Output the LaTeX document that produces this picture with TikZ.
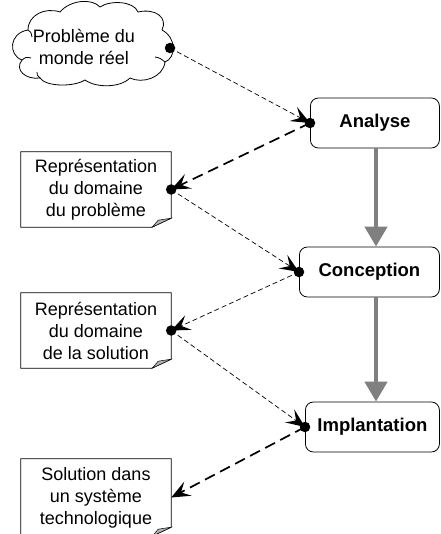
\documentclass[tikz,border=0pt]{standalone}
\usepackage{fontspec}
\setmainfont{Liberation Sans}
\usetikzlibrary{arrows.meta}
\begin{document}
\begin{tikzpicture}[x=1pt,y=-1pt,
  txt/.style={font=\fontsize{18}{22}\selectfont, align=center},
  proc/.style={draw, line width=0.8pt, rounded corners=8pt, inner sep=0pt,
    minimum height=50pt, anchor=west, font=\bfseries\fontsize{18.5}{22}\selectfont},
  docbox/.style={txt, inner sep=0pt, minimum width=150pt},
  docline/.style={line width=0.8pt},
  joint/.style={circle, fill=black, inner sep=0pt, minimum size=10.5pt},
  head/.style={-{Stealth[length=19pt,width=16pt,inset=8pt,line width=0pt]}},
  fineflow/.style={head, line width=0.7pt, dash pattern=on 5pt off 3pt, shorten >=0pt},
  boldflow/.style={head, line width=1.7pt, dash pattern=on 11pt off 6pt, shorten >=0pt},
  mainflow/.style={draw=black!50, line width=4.5pt,
    -{Triangle[length=20pt,width=22pt]}}
]
\useasboundingbox (0,0) rectangle (440,534);

% source of the problem: a hand-drawn cloud around its label
\node[txt, inner sep=0pt] (cloud) at (84,47) {Problème du\\monde réel};
\draw[line width=0.8pt, line join=round]
  (22,60) .. controls (8,55) and (9,33) .. (28,30)
          .. controls (28,15) and (45,7) .. (60,12)
          .. controls (70,0) and (92,-2) .. (100,7)
          .. controls (110,0) and (134,1) .. (138,12)
          .. controls (156,8) and (168,18) .. (162,30)
          .. controls (177,38) and (176,58) .. (165,62)
          .. controls (163,78) and (142,84) .. (130,78)
          .. controls (120,88) and (96,88) .. (85,80)
          .. controls (74,87) and (46,87) .. (40,78)
          .. controls (26,80) and (14,70) .. (22,60);
% inner folds of the cloud
\draw[line width=0.8pt]
  (28,30) .. controls (31,32) .. (32,37)
  (22,60) .. controls (26,57) .. (31,58)
  (165,62) .. controls (160,58) .. (155,57)
  (40,78) .. controls (37,75) .. (37,72);

% development phases
\node[proc, minimum width=129pt] (ana) at (310,123) {Analyse};
\node[proc, minimum width=140pt] (con) at (299,272) {Conception};
\node[proc, minimum width=134pt] (imp) at (305,427) {Implantation};

% documents produced by each phase
\node[docbox, minimum height=75pt] (r1) at (96,189.5)
  {Représentation\\du domaine\\du problème};
\node[docbox, minimum height=75pt] (r2) at (96,330.5)
  {Représentation\\du domaine\\de la solution};
\node[docbox, minimum height=77pt] (r3) at (96,497.5)
  {Solution dans\\un système\\technologique};

% page outlines with a curled corner
\foreach \d in {r1,r2,r3}{
  \draw[docline] (\d.south east) ++(0pt,9pt) -- (\d.north east)
    -- (\d.north west) -- (\d.south west) -- ++(131pt,0pt) -- cycle;
  \filldraw[docline, fill=black!30, line width=0.5pt]
    ([yshift=9pt]\d.south east) -- ([xshift=-19pt]\d.south east)
    -- ([xshift=-13pt,yshift=7pt]\d.south east) -- cycle;
}

% main sequence
\coordinate (axis) at (376,0);
\draw[mainflow] (ana.south -| axis) -- (con.north -| axis);
\draw[mainflow] (con.south -| axis) -- (imp.north -| axis);

% information flows
\coordinate (c0) at (170,48);
\draw[fineflow] (c0) -- (ana.west);
\draw[boldflow] (ana.west) -- (r1.east);
\draw[fineflow] (r1.east) -- (con.west);
\draw[fineflow] (con.west) -- (r2.east);
\draw[fineflow] (r2.east) -- (imp.west);
\draw[boldflow] (imp.west) -- (r3.east);

% connection points
\foreach \p in {c0, ana.west, r1.east, con.west, r2.east, imp.west}
  \node[joint] at (\p) {};
\end{tikzpicture}
\end{document}
